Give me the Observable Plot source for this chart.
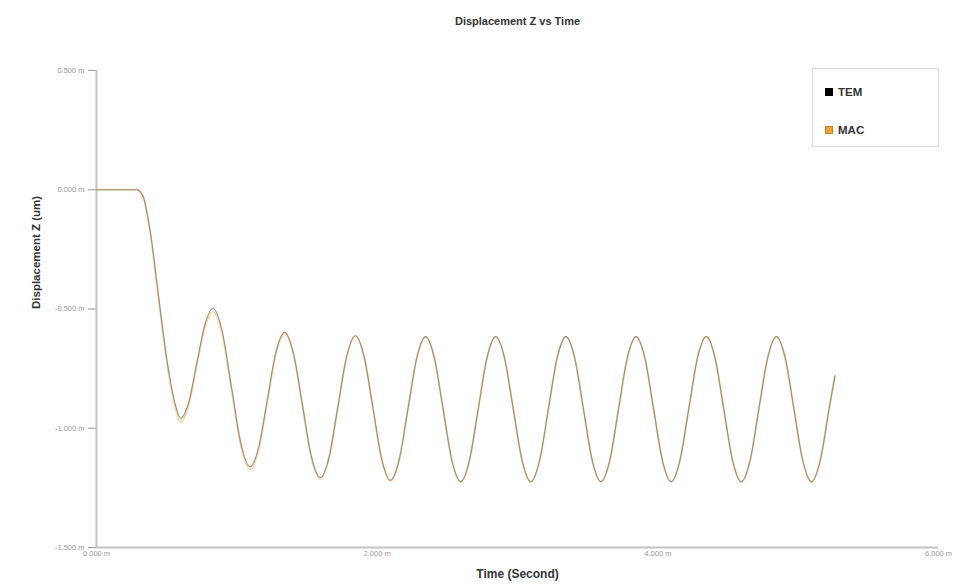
<!DOCTYPE html>
<html>
<head>
<meta charset="utf-8">
<script src="https://cdn.jsdelivr.net/npm/d3@7"></script>
<script src="https://cdn.jsdelivr.net/npm/@observablehq/plot@0.6"></script>
<style>
  body { margin: 0; background: #fff; font-family: "Liberation Sans", Arial, sans-serif; }
  #wrap { position: relative; width: 966px; height: 588px; }
  #legend { position: absolute; left: 812px; top: 68px; width: 127px; height: 79px; border: 1px solid #ddd; background: #fff; box-sizing: border-box; }
  .item { position: absolute; left: 12px; font-size: 11.5px; font-weight: bold; color: #333; display: flex; align-items: center; }
  .sw { width: 8px; height: 8px; margin-right: 5px; box-sizing: border-box; }
</style>
</head>
<body>
<div id="wrap"></div>
<script>
const title = "Displacement Z vs Time";
const xLabel = "Time (Second)";
const yLabel = "Displacement Z (um)";
const seriesNames = ["TEM", "MAC"];
const seriesColors = ["#000000", "#f0a030"];
const xTicks = [0, 2, 4, 6];
const yTicks = [0.5, 0, -0.5, -1, -1.5];

const time = [
  0, 0.29, 0.31, 0.337, 0.367, 0.397, 0.426, 0.456, 0.485, 0.515, 0.557, 0.60,
  0.6575, 0.715, 0.7725, 0.83,
  0.896, 0.9625, 1.029, 1.095,
  1.156, 1.2175, 1.279, 1.34,
  1.404, 1.4675, 1.531, 1.595,
  1.6575, 1.72, 1.7825, 1.845,
  1.9075, 1.97, 2.0325, 2.095,
  2.1575, 2.22, 2.2825, 2.345,
  2.4075, 2.47, 2.5325, 2.595,
  2.6575, 2.72, 2.7825, 2.845,
  2.9075, 2.97, 3.0325, 3.095,
  3.1575, 3.22, 3.2825, 3.345,
  3.4075, 3.47, 3.5325, 3.595,
  3.6575, 3.72, 3.7825, 3.845,
  3.9075, 3.97, 4.0325, 4.095,
  4.1575, 4.22, 4.2825, 4.345,
  4.4075, 4.47, 4.5325, 4.595,
  4.6575, 4.72, 4.7825, 4.845,
  4.9075, 4.97, 5.0325, 5.095,
  5.1575, 5.22, 5.262
];

const tem = [
  0, 0, -0.008, -0.036, -0.12, -0.232, -0.37, -0.511, -0.645, -0.763, -0.89, -0.958,
  -0.890, -0.726, -0.565, -0.497,
  -0.594, -0.829, -1.064, -1.161,
  -1.079, -0.880, -0.680, -0.598,
  -0.687, -0.902, -1.118, -1.207,
  -1.120, -0.910, -0.699, -0.612,
  -0.701, -0.915, -1.129, -1.218,
  -1.130, -0.917, -0.704, -0.616,
  -0.705, -0.920, -1.135, -1.224,
  -1.135, -0.920, -0.705, -0.616,
  -0.705, -0.920, -1.135, -1.224,
  -1.135, -0.920, -0.705, -0.616,
  -0.705, -0.920, -1.135, -1.224,
  -1.135, -0.920, -0.705, -0.616,
  -0.705, -0.920, -1.135, -1.224,
  -1.135, -0.920, -0.705, -0.616,
  -0.705, -0.920, -1.135, -1.224,
  -1.135, -0.920, -0.705, -0.616,
  -0.705, -0.920, -1.135, -1.224,
  -1.135, -0.920, -0.780
];

const mac = [
  0, 0, -0.008, -0.037, -0.122, -0.236, -0.376, -0.518, -0.654, -0.773, -0.903, -0.973,
  -0.902, -0.735, -0.576, -0.512,
  -0.607, -0.838, -1.073, -1.172,
  -1.088, -0.886, -0.686, -0.604,
  -0.692, -0.906, -1.123, -1.213,
  -1.124, -0.912, -0.701, -0.614,
  -0.702, -0.916, -1.131, -1.221,
  -1.131, -0.918, -0.705, -0.617,
  -0.705, -0.920, -1.135, -1.225,
  -1.135, -0.920, -0.705, -0.616,
  -0.705, -0.920, -1.135, -1.225,
  -1.135, -0.920, -0.705, -0.616,
  -0.705, -0.920, -1.135, -1.225,
  -1.135, -0.920, -0.705, -0.616,
  -0.705, -0.920, -1.135, -1.225,
  -1.135, -0.920, -0.705, -0.616,
  -0.705, -0.920, -1.135, -1.225,
  -1.135, -0.920, -0.705, -0.616,
  -0.705, -0.920, -1.135, -1.225,
  -1.135, -0.920, -0.780
];

const temData = time.map((t, i) => ({t, v: tem[i]}));
const macData = time.map((t, i) => ({t, v: mac[i]}));
const fmt = d => d.toFixed(3) + " m";

const chart = Plot.plot({
  width: 966,
  height: 588,
  marginLeft: 96,
  marginRight: 28,
  marginTop: 70,
  marginBottom: 41,
  style: {fontFamily: "'Liberation Sans', Arial, sans-serif", background: "#fff"},
  x: {domain: [0, 6]},
  y: {domain: [-1.5, 0.5]},
  marks: [
    Plot.axisY({ticks: yTicks, tickFormat: fmt, tickSize: 8, tickPadding: 4, fontSize: 7.5, color: "#9a9a9a", label: null}),
    Plot.axisX({ticks: xTicks, tickFormat: fmt, tickSize: 0, tickPadding: 3, fontSize: 7.5, color: "#9a9a9a", label: null}),
    Plot.ruleX([0], {stroke: "#c4c4c4", strokeWidth: 2}),
    Plot.ruleY([-1.5], {stroke: "#c4c4c4", strokeWidth: 2}),
    Plot.line(macData, {x: "t", y: "v", stroke: seriesColors[1], strokeWidth: 2, strokeOpacity: 0.4, curve: "monotone-x"}),
    Plot.line(temData, {x: "t", y: "v", stroke: "#7a7068", strokeWidth: 1.1, strokeOpacity: 0.75, curve: "monotone-x"}),
    Plot.text([title], {frameAnchor: "top", dy: -53, fontSize: 11, fontWeight: "bold", fill: "#333"}),
    Plot.text([xLabel], {frameAnchor: "bottom", dy: 30, fontSize: 12, fontWeight: "bold", fill: "#333"}),
    Plot.text([yLabel], {frameAnchor: "left", dx: -60, rotate: -90, fontSize: 11.5, fontWeight: "bold", fill: "#333"})
  ]
});

const wrap = document.getElementById("wrap");
wrap.appendChild(chart);

const legend = document.createElement("div");
legend.id = "legend";
seriesNames.forEach((name, i) => {
  const item = document.createElement("div");
  item.className = "item";
  item.style.top = (i === 0 ? 17 : 55) + "px";
  const sw = document.createElement("div");
  sw.className = "sw";
  sw.style.background = seriesColors[i];
  sw.style.border = "1px solid " + (i === 0 ? "#000" : "#c98020");
  item.appendChild(sw);
  const label = document.createElement("span");
  label.textContent = name;
  item.appendChild(label);
  legend.appendChild(item);
});
wrap.appendChild(legend);
</script>
</body>
</html>
